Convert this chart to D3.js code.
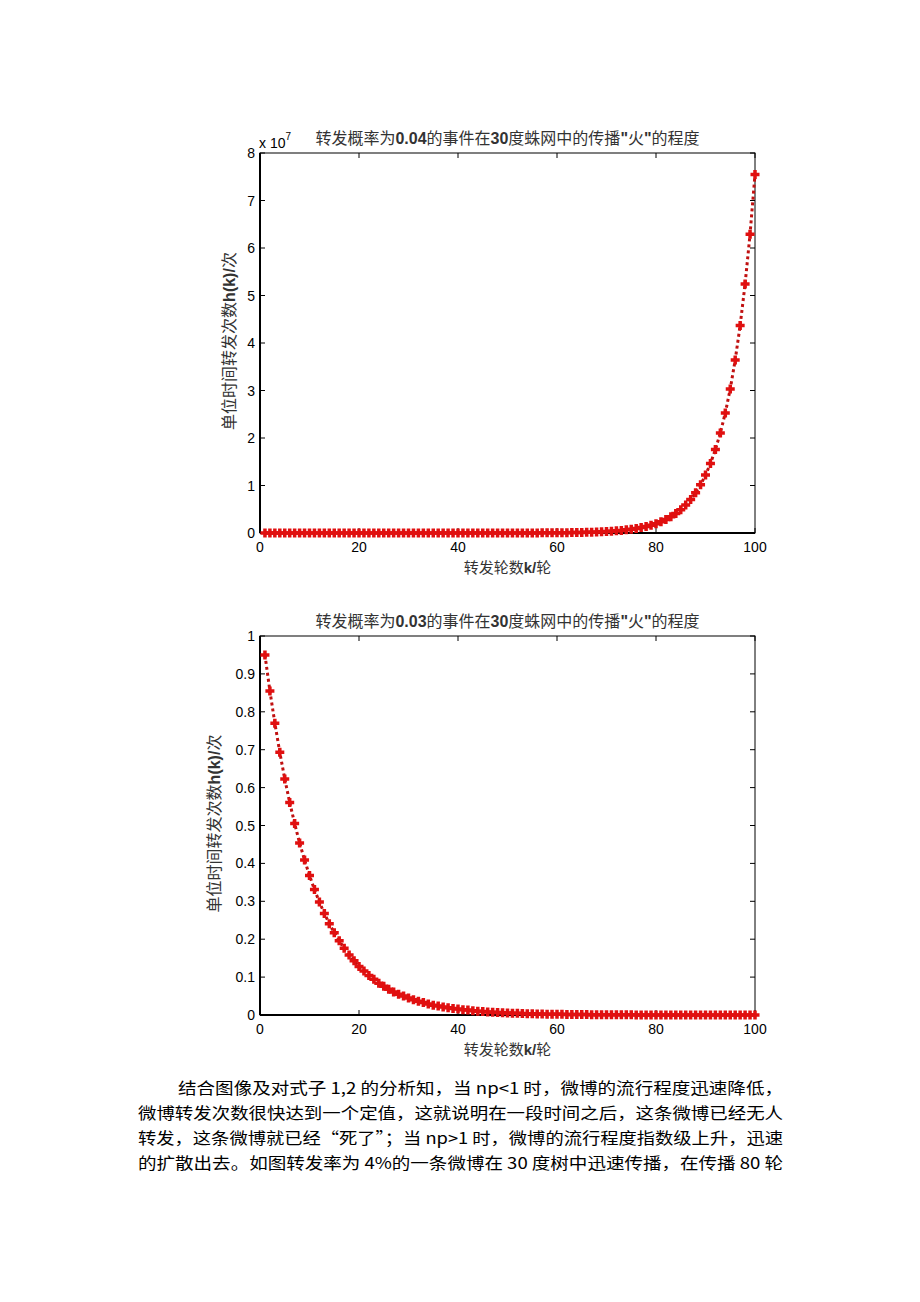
<!DOCTYPE html>
<html><head><meta charset="utf-8">
<script src="https://cdn.jsdelivr.net/npm/d3@7"></script>
<style>body{margin:0;background:#fff}</style>
</head><body>
<script>
// ---- data ----
const rounds = d3.range(1, 101);
// top chart: repost count per unit time, in units of 1e7, p = 0.04
const hotValues = [
 0,0,0,0,0,0,0,0,0,0,
 0,0,0,0,0,0,0,0,0,0,
 0,0,0,0,0,0,0,0,0,0.0001,
 0.0001,0.0001,0.0001,0.0001,0.0001,0.0001,0.0001,0.0001,0.0001,0.00013,
 0.00016,0.00019,0.00023,0.00028,0.00033,0.0004,0.00048,0.00058,0.00069,0.00083,
 0.00099,0.00119,0.00143,0.00172,0.002,0.0024,0.003,0.0035,0.004,0.005,
 0.006,0.007,0.009,0.011,0.013,0.015,0.018,0.022,0.026,0.032,
 0.038,0.046,0.055,0.066,0.079,0.095,0.114,0.137,0.164,0.197,
 0.236,0.284,0.340,0.408,0.490,0.588,0.706,0.847,1.016,1.219,
 1.463,1.756,2.107,2.528,3.034,3.641,4.369,5.243,6.292,7.55];
// bottom chart: p = 0.03
const coldValues = [
 0.950,0.855,0.770,0.693,0.623,0.561,0.505,0.454,0.409,0.368,
 0.331,0.298,0.268,0.241,0.217,0.196,0.176,0.158,0.143,0.128,
 0.116,0.104,0.094,0.084,0.076,0.068,0.061,0.055,0.050,0.045,
 0.040,0.036,0.033,0.029,0.026,0.024,0.021,0.019,0.017,0.016,
 0.014,0.013,0.011,0.010,0.009,0.008,0.007,0.0066,0.0060,0.0054,
 0.0048,0.0044,0.0039,0.0035,0.0032,0.0029,0.0026,0.0023,0.0021,0.0019,
 0.0017,0.0015,0.0014,0.0012,0.0011,0.0010,0.0009,0.0008,0.0007,0.0007,
 0.0006,0.0005,0.0005,0.0004,0.0004,0.0003,0.0003,0.0003,0.0002,0.0002,
 0.0002,0.0002,0.0001,0.0001,0.0001,0.0001,0.0001,0.0001,0.0001,0.0001,
 0.0001,0,0,0,0,0,0,0,0,0];
const xTicks = [0,20,40,60,80,100];
const topYTicks = [0,1,2,3,4,5,6,7,8];
const botYTicks = [0,0.1,0.2,0.3,0.4,0.5,0.6,0.7,0.8,0.9,1];
const topTitle = '转发概率为0.04的事件在30度蛛网中的传播"火"的程度';
const botTitle = '转发概率为0.03的事件在30度蛛网中的传播"火"的程度';
const xLabel = '转发轮数k/轮';
const yLabel = '单位时间转发次数h(k)/次';
const paragraph = [
 '结合图像及对式子 1,2 的分析知，当 np<1 时，微博的流行程度迅速降低，',
 '微博转发次数很快达到一个定值，这就说明在一段时间之后，这条微博已经无人',
 '转发，这条微博就已经“死了”；当 np>1 时，微博的流行程度指数级上升，迅速',
 '的扩散出去。如图转发率为 4%的一条微博在 30 度树中迅速传播，在传播 80 轮'];

const W = 920, H = 1302;
const svg = d3.select('body').append('svg').attr('width', W).attr('height', H)
  .style('font-family', 'Liberation Sans, Arial, sans-serif');

// mixed text: latin runs bold sans, CJK runs in Noto Sans CJK
function mixed(sel, str) {
  const parts = str.match(/[\x00-\x7F]+|[^\x00-\x7F]+/g);
  parts.forEach(p => {
    const latin = /^[\x00-\x7F]+$/.test(p);
    sel.append('tspan').text(p)
      .style('font-family', latin ? 'Liberation Sans, Arial, sans-serif' : 'Noto Sans CJK SC, sans-serif')
      .attr('font-weight', latin ? 'bold' : 'normal');
  });
}

function panel(opts) {
  const {left, right, top, bottom, yDomain, yTicks, values, title, yFmt, yLabelX} = opts;
  const x = d3.scaleLinear().domain([0,100]).range([left, right]);
  const y = d3.scaleLinear().domain(yDomain).range([bottom, top]);
  const g = svg.append('g');
  const tl = 5;
  const ax = g.append('g').attr('stroke', '#000').attr('stroke-width', 1);
  xTicks.forEach(t => {
    ax.append('line').attr('x1', x(t)).attr('x2', x(t)).attr('y1', bottom).attr('y2', bottom - tl);
    ax.append('line').attr('x1', x(t)).attr('x2', x(t)).attr('y1', top).attr('y2', top + tl);
  });
  yTicks.forEach(t => {
    ax.append('line').attr('x1', left).attr('x2', left + tl).attr('y1', y(t)).attr('y2', y(t));
    ax.append('line').attr('x1', right).attr('x2', right - tl).attr('y1', y(t)).attr('y2', y(t));
  });
  g.append('rect').attr('x', left).attr('y', top).attr('width', right-left).attr('height', bottom-top)
    .attr('fill', 'none').attr('stroke', '#000').attr('stroke-width', 1);
  g.append('line').attr('x1', left).attr('x2', right).attr('y1', bottom).attr('y2', bottom).attr('stroke','#000').attr('stroke-width',2);
  g.append('line').attr('x1', left).attr('x2', left).attr('y1', top).attr('y2', bottom).attr('stroke','#000').attr('stroke-width',2);
  g.selectAll('.xt').data(xTicks).enter().append('text')
    .attr('x', d => x(d)).attr('y', bottom + 19).attr('text-anchor', 'middle')
    .attr('font-size', 14).attr('fill', '#000').text(d => d);
  g.selectAll('.yt').data(yTicks).enter().append('text')
    .attr('x', left - 5).attr('y', d => y(d) + 5).attr('text-anchor', 'end')
    .attr('font-size', 14).attr('fill', '#000').text(yFmt);
  const t = g.append('text').attr('x', (left+right)/2).attr('y', top - 9).attr('text-anchor', 'middle')
    .attr('font-size', 16).attr('fill', '#333');
  mixed(t, title);
  const xl = g.append('text').attr('x', (left+right)/2).attr('y', bottom + 40).attr('text-anchor', 'middle')
    .attr('font-size', 15).attr('fill', '#333');
  mixed(xl, xLabel);
  const yl = g.append('text').attr('transform', `translate(${yLabelX},${(top+bottom)/2 - 2}) rotate(-90)`)
    .attr('text-anchor', 'middle').attr('font-size', 16).attr('fill', '#333');
  mixed(yl, yLabel);
  const pts = rounds.map((k,i) => [k, values[i]]);
  const line = d3.line().x(d => x(d[0])).y(d => y(d[1]));
  g.append('path').datum(pts).attr('d', line).attr('fill', 'none')
    .attr('stroke', '#c01010').attr('stroke-width', 3).attr('stroke-dasharray', '3,3');
  const s = 4.5;
  g.selectAll('.m').data(pts).enter().append('path')
    .attr('d', d => `M${x(d[0])-s},${y(d[1])}H${x(d[0])+s}M${x(d[0])},${y(d[1])-s}V${y(d[1])+s}`)
    .attr('stroke', '#e01010').attr('stroke-width', 3.5).attr('fill', 'none');
  return {x, y};
}

panel({left: 260, right: 755, top: 153, bottom: 533, yDomain: [0,8], yTicks: topYTicks,
  values: hotValues, title: topTitle, yFmt: d => d, yLabelX: 235});
const ex = svg.append('text').attr('x', 259).attr('y', 148).attr('font-size', 14).attr('fill', '#000');
ex.append('tspan').text('x 10');
ex.append('tspan').attr('font-size', 10).attr('dy', -8).text('7');

panel({left: 260, right: 755, top: 636, bottom: 1015, yDomain: [0,1], yTicks: botYTicks,
  values: coldValues, title: botTitle, yFmt: d => d, yLabelX: 220});

const starts = [178, 138, 138, 138];
svg.selectAll('.para').data(paragraph).enter().append('text')
  .attr('x', (d,i) => starts[i]).attr('y', (d,i) => 1094 + i*25)
  .attr('font-size', 16).attr('fill', '#000')
  .style('font-family', 'Noto Sans CJK SC, sans-serif')
  .attr('textLength', (d,i) => 783 - starts[i]).attr('lengthAdjust', 'spacingAndGlyphs')
  .text(d => d);
</script>
</body></html>
